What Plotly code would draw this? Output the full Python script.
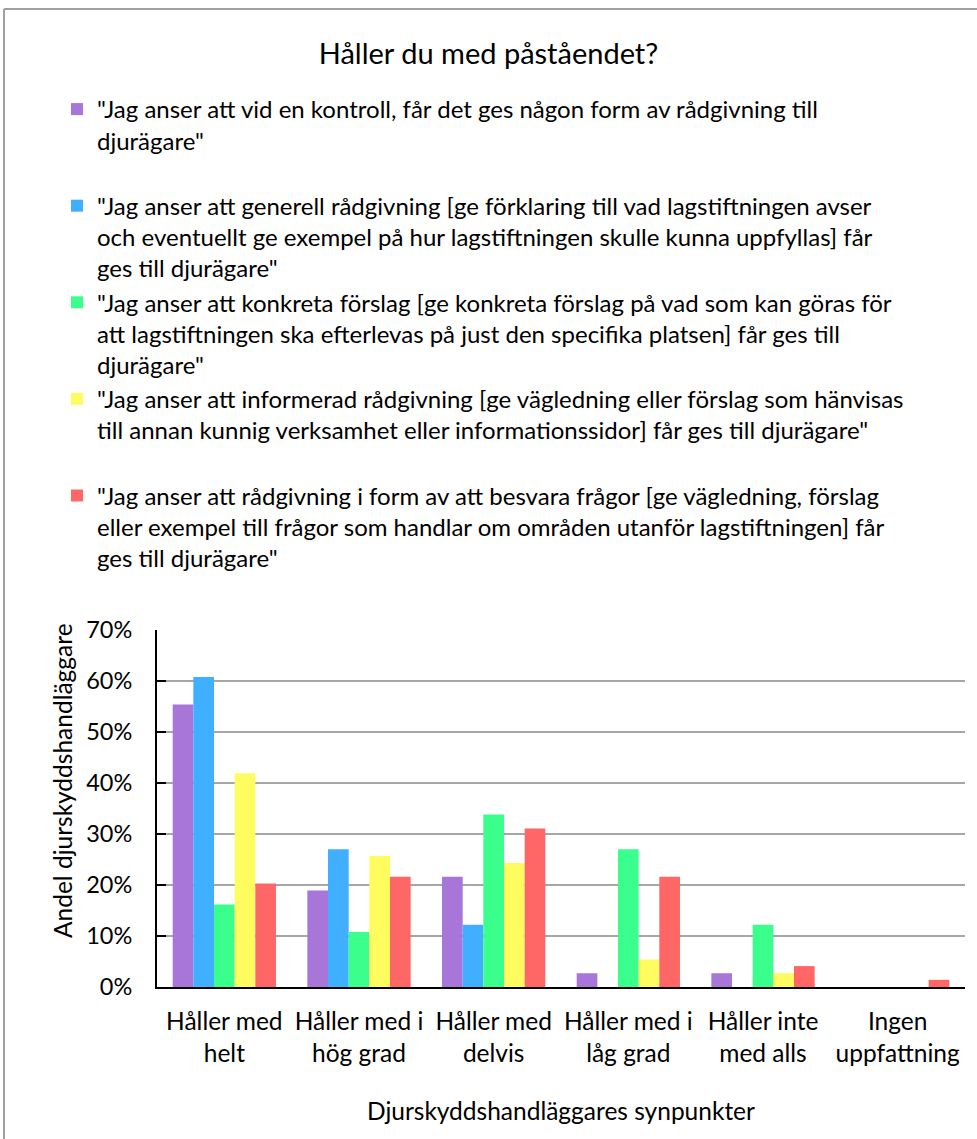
import plotly.graph_objects as go

categories = ["Håller med<br>helt", "Håller med i<br>hög grad", "Håller med<br>delvis",
              "Håller med i<br>låg grad", "Håller inte<br>med alls", "Ingen<br>uppfattning"]

series_names = [
    "\"Jag anser att vid en kontroll, får det ges någon form av rådgivning till<br>djurägare\"<br>\u00a0",
    "\"Jag anser att generell rådgivning [ge förklaring till vad lagstiftningen avser<br>och eventuellt ge exempel på hur lagstiftningen skulle kunna uppfyllas] får<br>ges till djurägare\"",
    "\"Jag anser att konkreta förslag [ge konkreta förslag på vad som kan göras för<br>att lagstiftningen ska efterlevas på just den specifika platsen] får ges till<br>djurägare\"",
    "\"Jag anser att informerad rådgivning [ge vägledning eller förslag som hänvisas<br>till annan kunnig verksamhet eller informationssidor] får ges till djurägare\"<br>\u00a0",
    "\"Jag anser att rådgivning i form av att besvara frågor [ge vägledning, förslag<br>eller exempel till frågor som handlar om områden utanför lagstiftningen] får<br>ges till djurägare\"",
]

kontroll = [55.4, 18.9, 21.6, 2.7, 2.7, 0]
generell = [60.8, 27.0, 12.2, 0, 0, 0]
konkreta = [16.2, 10.8, 33.8, 27.0, 12.2, 0]
informerad = [41.9, 25.7, 24.3, 5.4, 2.7, 0]
fragor = [20.3, 21.6, 31.1, 21.6, 4.1, 1.4]

values = [kontroll, generell, konkreta, informerad, fragor]
colors = ["#A875D8", "#40AFFF", "#3AFF8C", "#FFFC60", "#FF6666"]

FONT = "Lato"
W, H = 977, 1139
L, R, T, B = 157, 965, 630, 987
PW, PH = R - L, B - T


def px(x):
    return (x - L) / PW


def py(y):
    return (B - y) / PH


fig = go.Figure()
for i, (name, vals) in enumerate(zip(series_names, values)):
    fig.add_trace(go.Bar(
        x=categories, y=vals, name=name,
        marker=dict(color=colors[i], line=dict(width=0)),
        legendgroup=f"g{i}",
    ))

fig.update_layout(
    width=W, height=H,
    margin=dict(l=L, r=W - R, t=T, b=H - B, pad=0),
    paper_bgcolor="white", plot_bgcolor="white",
    barmode="group", bargap=0.233, bargroupgap=0,
    font=dict(family=FONT, color="#000000"),
    title=dict(text="Håller du med påståendet?", x=0.5, xanchor="center",
               y=1 - 54 / H, yanchor="middle", font=dict(size=29, family=FONT)),
    showlegend=True,
    legend=dict(x=px(57), xanchor="left", y=py(87), yanchor="top",
                font=dict(size=24, family=FONT), valign="top",
                tracegroupgap=0, traceorder="normal",
                bgcolor="rgba(0,0,0,0)"),
    xaxis=dict(showline=True, linecolor="#000000", linewidth=2, ticks="",
               tickfont=dict(size=24.5, family=FONT), showgrid=False,
               ticklabelstandoff=12),
    yaxis=dict(range=[0, 70], dtick=10, ticksuffix="%", showline=True,
               linecolor="#000000", linewidth=2, ticks="inside", ticklen=9,
               tickcolor="#000000", tickwidth=2,
               showgrid=True, gridcolor="#A6A6A6", gridwidth=2,
               tickfont=dict(size=23.5, family=FONT), ticklabelstandoff=18,
               zeroline=False),
    annotations=[
        dict(text="Andel djurskyddshandläggare", textangle=-90, xref="paper", yref="paper",
             x=px(62), y=py(781), xanchor="center", yanchor="middle",
             showarrow=False, font=dict(size=24.5, family=FONT)),
        dict(text="Djurskyddshandläggares synpunkter", xref="paper", yref="paper",
             x=px(561), y=py(1110), xanchor="center", yanchor="middle",
             showarrow=False, font=dict(size=24.5, family=FONT)),
    ],
    shapes=[
        dict(type="line", xref="paper", yref="paper",
             x0=px(4), x1=px(1000), y0=py(9), y1=py(9),
             line=dict(color="#A0A0A0", width=2)),
        dict(type="line", xref="paper", yref="paper",
             x0=px(4), x1=px(4), y0=py(9), y1=py(1160),
             line=dict(color="#A0A0A0", width=2)),
    ],
)

fig.write_html("out.html", config={"displayModeBar": False},
               post_script="document.body.style.margin='0';")
